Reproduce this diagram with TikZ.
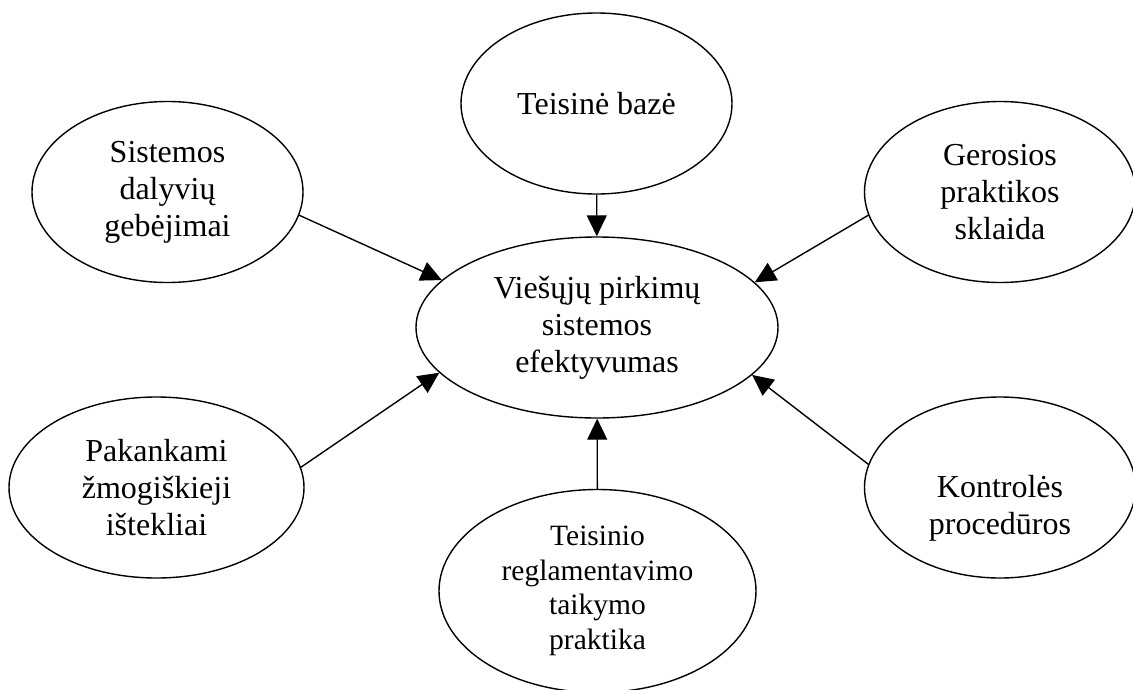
\documentclass[tikz,border=0pt]{standalone}
\usepackage{fontspec}
\setmainfont{Liberation Serif}
\usetikzlibrary{shapes.geometric,arrows.meta}
\begin{document}
\begin{tikzpicture}[x=1pt,y=-1pt,
  bubble/.style={draw,ellipse,line width=1.4pt,inner sep=0pt,align=center,
                 font=\fontsize{32}{37}\selectfont},
  small/.style={bubble,minimum width=271pt,minimum height=181pt},
  link/.style={line width=1.4pt,-{Triangle[length=21pt,width=20pt]}}]
\useasboundingbox (0,0) rectangle (1133,689);

% central outcome
\node[bubble,minimum width=362pt,minimum height=181pt] (eff) at (597,327.5)
  {Viešųjų pirkimų\\sistemos\\efektyvumas};

% influencing factors
\node[small] (base) at (596.5,103.5) {Teisinė bazė};
\node[small] (sis)  at (167.5,192)   {Sistemos\\dalyvių\\gebėjimai};
\node[small] (ger)  at (1000,192)    {Gerosios\\praktikos\\sklaida};
\node[small,minimum width=295pt] (pak) at (156.5,487.5) {Pakankami\\žmogiškieji\\ištekliai};
\node[small] (kon)  at (1000,487.5)  {\strut\\Kontrolės\\procedūros};
\node[bubble,minimum width=317pt,minimum height=203pt,
      font=\fontsize{29.5}{34.5}\selectfont] (reg) at (597.5,591)
  {Teisinio\\reglamentavimo\\taikymo\\praktika};

% arrows into the centre
\draw[link] (base) -- (eff);
\draw[link] (reg) -- (eff);
\draw[link] (sis.-10) -- (eff.163.7);
\draw[link] (ger.190) -- (eff.16);
\draw[link] (pak.8.7) -- (eff.196.5);
\draw[link] (kon.170.7) -- (eff.-17);
\end{tikzpicture}
\end{document}
